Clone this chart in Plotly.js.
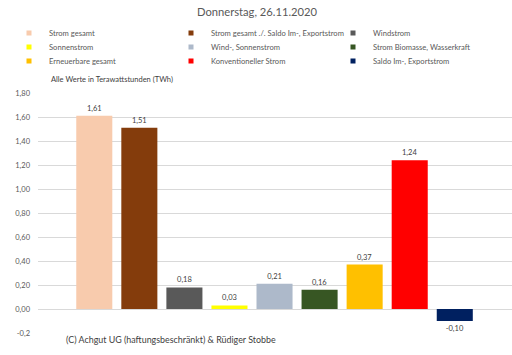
<!DOCTYPE html>
<html><head><meta charset="utf-8">
<script src="https://cdn.plot.ly/plotly-3.0.1.min.js"></script>
<style>html,body{margin:0;padding:0;background:#fff}#chart{width:512px;height:355px}</style>
</head><body><div id="chart"></div>
<script>
const chartTitle = 'Donnerstag, 26.11.2020';
const categories = ['Strom gesamt', 'Strom gesamt ./. Saldo Im-, Exportstrom', 'Windstrom',
  'Sonnenstrom', 'Wind-, Sonnenstrom', 'Strom Biomasse, Wasserkraft',
  'Erneuerbare gesamt', 'Konventioneller Strom', 'Saldo Im-, Exportstrom'];
const values = [1.61, 1.51, 0.18, 0.03, 0.21, 0.16, 0.37, 1.24, -0.10];
const colors = ['#F8CBAD', '#843C0C', '#595959', '#FFFF00', '#ADB9CA', '#375623', '#FFC000', '#FF0000', '#002060'];
const legendRows = ['legend', 'legend', 'legend', 'legend2', 'legend2', 'legend2', 'legend3', 'legend3', 'legend3'];
const yTickVals = [-0.2, 0, 0.2, 0.4, 0.6, 0.8, 1.0, 1.2, 1.4, 1.6, 1.8];
const yTickText = ['-0,2', '0,00', '0,20', '0,40', '0,60', '0,80', '1,00', '1,20', '1,40', '1,60', '1,80'];
const unitNote = 'Alle Werte in Terawattstunden (TWh)';
const credit = '(C) Achgut UG (haftungsbeschränkt) &amp; Rüdiger Stobbe';

const FONT = 'Lato, "Open Sans", sans-serif';
const W = 512, H = 355, ML = 38, MR = 0, MT = 93, MB = 22;
const PW = W - ML - MR, PH = H - MT - MB;
const px2x = p => (p - ML) / PW;
const py2y = p => (H - MB - p) / PH;

const traces = [];
categories.forEach((c, i) => {
  traces.push({
    type: 'bar', x: [c], y: [values[i]], name: c, legendgroup: c, showlegend: false,
    marker: {color: colors[i]}, width: 0.8,
    texttemplate: '%{y:.2f}', textposition: 'outside', cliponaxis: false,
    textfont: {family: FONT, size: 7.5, color: '#404040'},
    hoverinfo: 'name+y'
  });
});
categories.forEach((c, i) => {
  traces.push({
    type: 'scatter', mode: 'markers', x: [null], y: [null], name: c, legendgroup: c,
    legend: legendRows[i], showlegend: true,
    marker: {symbol: 'square', size: 5, color: colors[i]}
  });
});

const legendBase = {
  orientation: 'h', xref: 'paper', yref: 'paper', xanchor: 'left', yanchor: 'middle',
  x: px2x(9), entrywidth: 117, entrywidthmode: 'pixels', itemwidth: 30,
  font: {family: FONT, size: 7.6, color: '#595959'}, bgcolor: 'rgba(0,0,0,0)', borderwidth: 0,
  itemclick: false, itemdoubleclick: false
};

const layout = {
  width: W, height: H,
  margin: {l: ML, r: MR, t: MT, b: MB, pad: 0},
  paper_bgcolor: '#fff', plot_bgcolor: '#fff',
  separators: ',.',
  barmode: 'overlay',
  font: {family: FONT, color: '#595959'},
  title: {text: chartTitle, x: 257 / W, xref: 'container', y: 1 - 12 / H, yref: 'container',
    xanchor: 'center', yanchor: 'middle', font: {family: FONT, size: 11.2, color: '#595959'}},
  xaxis: {type: 'category', range: [-1.249, 9.27], showticklabels: false, showgrid: false,
    zeroline: false, showline: false, ticks: '', fixedrange: true},
  yaxis: {range: [-0.2, 1.8], tickvals: yTickVals, ticktext: yTickText, showgrid: true,
    gridcolor: '#D9D9D9', gridwidth: 1, zeroline: true, zerolinecolor: '#D9D9D9', zerolinewidth: 1,
    showline: false, ticks: '', ticklabelstandoff: 7,
    tickfont: {family: FONT, size: 7.5, color: '#595959'}, fixedrange: true},
  legend: Object.assign({}, legendBase, {y: py2y(33)}),
  legend2: Object.assign({}, legendBase, {y: py2y(47)}),
  legend3: Object.assign({}, legendBase, {y: py2y(61)}),
  annotations: [
    {text: unitNote, xref: 'paper', yref: 'paper', x: px2x(49), y: py2y(79),
      xanchor: 'left', yanchor: 'middle', showarrow: false,
      font: {family: FONT, size: 7.5, color: '#404040'}},
    {text: credit, xref: 'paper', yref: 'paper', x: px2x(171), y: py2y(339),
      xanchor: 'center', yanchor: 'middle', showarrow: false, width: 266, height: 14,
      align: 'center', bgcolor: '#FFFFFF', borderpad: 1,
      font: {family: FONT, size: 8.9, color: '#404040'}}
  ],
  showlegend: true
};

Plotly.newPlot('chart', traces, layout, {displayModeBar: false, responsive: false});
</script>
</body></html>
